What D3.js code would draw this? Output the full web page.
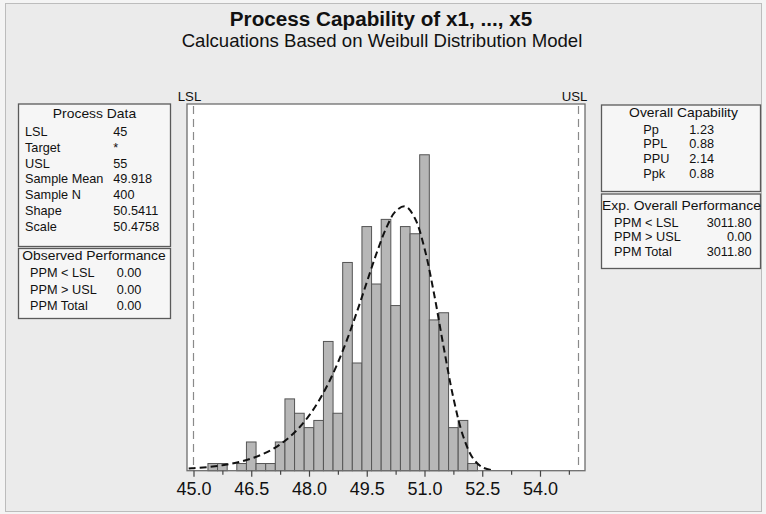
<!DOCTYPE html>
<html>
<head>
<meta charset="utf-8">
<script src="https://cdn.jsdelivr.net/npm/d3@7"></script>
<style>
  body { margin: 0; background: #f4f4f4; }
  svg { display: block; }
  text { font-family: "Liberation Sans", Arial, sans-serif; fill: #111; }
</style>
</head>
<body>
<svg id="chart" width="766" height="514"></svg>
<script>
// histogram: bin centres (width 0.25) and counts, N = 400
const binCenters = [45.5, 45.75, 46.0, 46.25, 46.5, 46.75, 47.0, 47.25, 47.5, 47.75, 48.0, 48.25, 48.5, 48.75,
                    49.0, 49.25, 49.5, 49.75, 50.0, 50.25, 50.5, 50.75, 51.0, 51.25, 51.5, 51.75, 52.0, 52.25];
const binCounts = [1, 1, 0, 1, 4, 1, 1, 4, 10, 8, 6, 7, 18, 8, 29, 15, 34, 26, 35, 23, 34, 33, 44, 21, 22, 6, 7, 1];
const binWidth = 0.25;

// fitted Weibull curve (expected count per bin)
const curveX = [44.875, 45.0, 45.25, 45.5, 45.75, 46.0, 46.25, 46.5, 46.75, 47.0, 47.25, 47.5, 47.75, 48.0, 48.25,
                48.5, 48.75, 49.0, 49.25, 49.5, 49.75, 50.0, 50.25, 50.5, 50.75, 51.0, 51.25, 51.5, 51.75, 52.0,
                52.25, 52.5, 52.75];
const curveY = [0.30, 0.34, 0.44, 0.58, 0.76, 1.00, 1.30, 1.69, 2.20, 2.84, 3.67, 4.71, 6.02, 7.66, 9.68,
                12.13, 15.04, 18.42, 22.20, 26.22, 30.21, 33.71, 36.13, 36.81, 35.16, 30.96, 24.59, 17.14, 10.14, 4.87,
                1.80, 0.48, 0.08];

const specLimits = [{ name: 'LSL', value: 45 }, { name: 'USL', value: 55 }];

const majorTicks = [45.0, 46.5, 48.0, 49.5, 51.0, 52.5, 54.0];
const minorTicks = [45.75, 47.25, 48.75, 50.25, 51.75, 53.25, 54.75];

const processLabels = ['LSL', 'Target', 'USL', 'Sample Mean', 'Sample N', 'Shape', 'Scale'];
const processValues = ['45', '*', '55', '49.918', '400', '50.5411', '50.4758'];
const observedLabels = ['PPM < LSL', 'PPM > USL', 'PPM Total'];
const observedValues = ['0.00', '0.00', '0.00'];
const capLabels = ['Pp', 'PPL', 'PPU', 'Ppk'];
const capValues = ['1.23', '0.88', '2.14', '0.88'];
const expLabels = ['PPM < LSL', 'PPM > USL', 'PPM Total'];
const expValues = ['3011.80', '0.00', '3011.80'];

const svg = d3.select('#chart');

// outer graph frame
svg.append('rect')
    .attr('x', 5.5).attr('y', 3.5).attr('width', 756).attr('height', 508)
    .attr('fill', '#ebebeb').attr('stroke', '#bcbcbc');

// titles
svg.append('text')
    .attr('x', 381).attr('y', 26).attr('text-anchor', 'middle')
    .style('font-size', '20.7px').style('font-weight', 'bold')
    .text('Process Capability of x1, ..., x5');
svg.append('text')
    .attr('x', 382).attr('y', 47).attr('text-anchor', 'middle')
    .style('font-size', '18.6px')
    .text('Calcuations Based on Weibull Distribution Model');

// plot area
const plot = { left: 187, right: 585, top: 104, bottom: 470.7 };

const x = d3.scaleLinear()
    .domain([45 - 6.5 / 38.5, 55 + 6.5 / 38.5])
    .range([plot.left, plot.right]);
const y = d3.scaleLinear()
    .domain([0, 51.07])
    .range([plot.bottom, plot.top]);

svg.append('rect')
    .attr('x', plot.left).attr('y', plot.top)
    .attr('width', plot.right - plot.left).attr('height', plot.bottom - plot.top)
    .attr('fill', '#ffffff');

// bars
svg.append('g').selectAll('rect')
    .data(binCenters.map((c, i) => ({ c, n: binCounts[i] })).filter(d => d.n > 0))
    .enter()
    .append('rect')
    .attr('x', d => x(d.c - binWidth / 2))
    .attr('y', d => y(d.n))
    .attr('width', d => x(d.c + binWidth / 2) - x(d.c - binWidth / 2))
    .attr('height', d => y(0) - y(d.n))
    .attr('fill', '#b7b7b7')
    .attr('stroke', '#555')
    .attr('stroke-width', 1);

// spec limit lines
svg.append('g').selectAll('line')
    .data(specLimits)
    .enter()
    .append('line')
    .attr('x1', d => x(d.value)).attr('x2', d => x(d.value))
    .attr('y1', plot.top + 2).attr('y2', plot.bottom)
    .attr('stroke', '#8a8a8a').attr('stroke-width', 1.2)
    .attr('stroke-dasharray', '8,5');

// fitted curve
const line = d3.line()
    .x((d, i) => x(curveX[i]))
    .y(d => y(d))
    .curve(d3.curveCatmullRom);
svg.append('path')
    .attr('d', line(curveY))
    .attr('fill', 'none')
    .attr('stroke', '#111')
    .attr('stroke-width', 2)
    .attr('stroke-dasharray', '7,4');

// frame of plot
svg.append('rect')
    .attr('x', plot.left).attr('y', plot.top)
    .attr('width', plot.right - plot.left).attr('height', plot.bottom - plot.top)
    .attr('fill', 'none').attr('stroke', '#6e6e6e').attr('stroke-width', 1.3);

// x axis: major with labels, minor without
const majorAxis = svg.append('g')
    .attr('transform', `translate(0,${plot.bottom})`)
    .call(d3.axisBottom(x).tickValues(majorTicks).tickFormat(d3.format('.1f')).tickSize(6));
majorAxis.select('.domain').remove();
majorAxis.selectAll('line').attr('stroke', '#444').attr('stroke-width', 1.2);
majorAxis.selectAll('text')
    .attr('dy', null).attr('y', 24.5)
    .style('font-size', '18px')
    .style('font-family', '"Liberation Sans", Arial, sans-serif')
    .attr('fill', '#111');

const minorAxis = svg.append('g')
    .attr('transform', `translate(0,${plot.bottom})`)
    .call(d3.axisBottom(x).tickValues(minorTicks).tickFormat('').tickSize(4));
minorAxis.select('.domain').remove();
minorAxis.selectAll('line').attr('stroke', '#444').attr('stroke-width', 1.2);

// small text is rendered a bit wider than the font, as in the original
function smallText(px, py, str, anchor, size, sx) {
    return svg.append('text')
        .attr('transform', `translate(${px},${py}) scale(${sx},1)`)
        .attr('text-anchor', anchor)
        .style('font-size', size + 'px')
        .text(str);
}
const row = (px, py, str, anchor) => smallText(px, py, str, anchor || 'start', 12, 1.06);
const head = (px, py, str) => smallText(px, py, str, 'middle', 12.4, 1.12);

// spec limit labels
specLimits.forEach(d => smallText(x(d.value) - 4, 100.7, d.name, 'middle', 12, 1.1));

function box(bx, by, bw, bh) {
    svg.append('rect')
        .attr('x', bx).attr('y', by).attr('width', bw).attr('height', bh)
        .attr('fill', '#f6f6f6').attr('stroke', '#5a5a5a').attr('stroke-width', 1.3);
}

// Process Data
box(18.5, 104, 152, 142.5);
head(94.5, 118.3, 'Process Data');
processLabels.forEach((l, i) => {
    row(25, 136 + i * 15.8, l);
    row(113.3, 136 + i * 15.8, processValues[i]);
});

// Observed Performance
box(18.5, 248.5, 152, 70);
head(94, 260.3, 'Observed Performance');
observedLabels.forEach((l, i) => {
    row(30, 277.3 + i * 16.3, l);
    row(116.7, 277.3 + i * 16.3, observedValues[i]);
});

// Overall Capability
box(601.5, 105, 159, 86.5);
head(683.5, 117.3, 'Overall Capability');
capLabels.forEach((l, i) => {
    row(643.3, 133.7 + i * 14.7, l);
    row(689.3, 133.7 + i * 14.7, capValues[i]);
});

// Exp. Overall Performance
box(601.5, 194, 159, 74.5);
head(681.5, 210, 'Exp. Overall Performance');
expLabels.forEach((l, i) => {
    row(614, 226.7 + i * 14.7, l);
    row(751.7, 226.7 + i * 14.7, expValues[i], 'end');
});
</script>
</body>
</html>
